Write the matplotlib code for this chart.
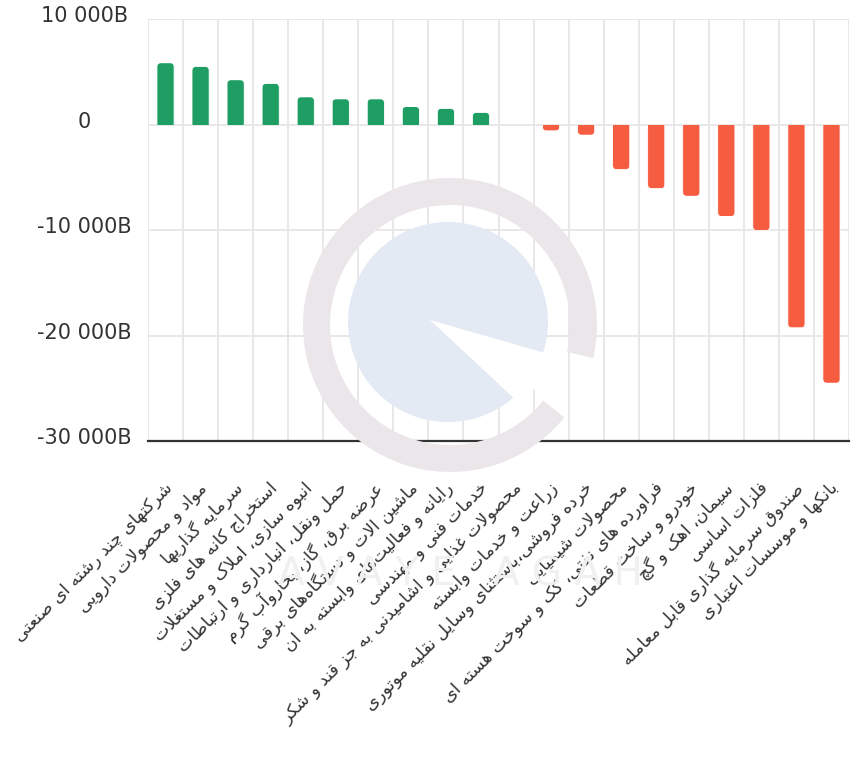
import matplotlib
matplotlib.use("Agg")
import matplotlib.pyplot as plt
from matplotlib.transforms import ScaledTranslation
from matplotlib.patches import Wedge, Circle, FancyBboxPatch, Rectangle

# ---------------- data ----------------
categories = [
    "شرکتهای چند رشته ای صنعتی",
    "مواد و محصولات دارویی",
    "سرمایه گذاریها",
    "استخراج کانه های فلزی",
    "انبوه سازی، املاک و مستغلات",
    "حمل ونقل، انبارداری و ارتباطات",
    "عرضه برق، گاز، بخاروآب گرم",
    "ماشین الات و دستگاه\u200cهای برقی",
    "رایانه و فعالیت\u200cهای وابسته به ان",
    "خدمات فنی و مهندسی",
    "محصولات غذایی و اشامیدنی به جز قند و شکر",
    "زراعت و خدمات وابسته",
    "خرده فروشی،باستثنای وسایل نقلیه موتوری",
    "محصولات شیمیایی",
    "فراورده های نفتی، کک و سوخت هسته ای",
    "خودرو و ساخت قطعات",
    "سیمان، اهک و گچ",
    "فلزات اساسی",
    "صندوق سرمایه گذاری قابل معامله",
    "بانکها و موسسات اعتباری",
]
values = [5850, 5500, 4240, 3890, 2620, 2430, 2430, 1700, 1520, 1140,
          0, -600, -1010, -4270, -6070, -6800, -8720, -10050, -19270, -24520]
y_ticks = [10000, 0, -10000, -20000, -30000]
y_tick_labels = ["10 000B", "0", "-10 000B", "-20 000B", "-30 000B"]

# ---------------- minimal Persian shaping ----------------
_DUAL = {
    'ب': (0xFE8F, 0xFE90, 0xFE91, 0xFE92), 'پ': (0xFB56, 0xFB57, 0xFB58, 0xFB59),
    'ت': (0xFE95, 0xFE96, 0xFE97, 0xFE98), 'ث': (0xFE99, 0xFE9A, 0xFE9B, 0xFE9C),
    'ج': (0xFE9D, 0xFE9E, 0xFE9F, 0xFEA0), 'چ': (0xFB7A, 0xFB7B, 0xFB7C, 0xFB7D),
    'ح': (0xFEA1, 0xFEA2, 0xFEA3, 0xFEA4), 'خ': (0xFEA5, 0xFEA6, 0xFEA7, 0xFEA8),
    'س': (0xFEB1, 0xFEB2, 0xFEB3, 0xFEB4), 'ش': (0xFEB5, 0xFEB6, 0xFEB7, 0xFEB8),
    'ص': (0xFEB9, 0xFEBA, 0xFEBB, 0xFEBC), 'ض': (0xFEBD, 0xFEBE, 0xFEBF, 0xFEC0),
    'ط': (0xFEC1, 0xFEC2, 0xFEC3, 0xFEC4), 'ظ': (0xFEC5, 0xFEC6, 0xFEC7, 0xFEC8),
    'ع': (0xFEC9, 0xFECA, 0xFECB, 0xFECC), 'غ': (0xFECD, 0xFECE, 0xFECF, 0xFED0),
    'ف': (0xFED1, 0xFED2, 0xFED3, 0xFED4), 'ق': (0xFED5, 0xFED6, 0xFED7, 0xFED8),
    'ک': (0xFB8E, 0xFB8F, 0xFB90, 0xFB91), 'ك': (0xFED9, 0xFEDA, 0xFEDB, 0xFEDC),
    'گ': (0xFB92, 0xFB93, 0xFB94, 0xFB95), 'ل': (0xFEDD, 0xFEDE, 0xFEDF, 0xFEE0),
    'م': (0xFEE1, 0xFEE2, 0xFEE3, 0xFEE4), 'ن': (0xFEE5, 0xFEE6, 0xFEE7, 0xFEE8),
    'ه': (0xFEE9, 0xFEEA, 0xFEEB, 0xFEEC), 'ی': (0xFBFC, 0xFBFD, 0xFBFE, 0xFBFF),
    'ي': (0xFEF1, 0xFEF2, 0xFEF3, 0xFEF4), 'ئ': (0xFE89, 0xFE8A, 0xFE8B, 0xFE8C),
}
_RIGHT = {
    'ا': (0xFE8D, 0xFE8E), 'آ': (0xFE81, 0xFE82), 'أ': (0xFE83, 0xFE84),
    'د': (0xFEA9, 0xFEAA), 'ذ': (0xFEAB, 0xFEAC), 'ر': (0xFEAD, 0xFEAE),
    'ز': (0xFEAF, 0xFEB0), 'ژ': (0xFB8A, 0xFB8B), 'و': (0xFEED, 0xFEEE),
    'ة': (0xFE93, 0xFE94), 'LA': (0xFEFB, 0xFEFC), 'LAA': (0xFEF5, 0xFEF6),
}


def shape_fa(text):
    toks = []
    i = 0
    while i < len(text):
        c = text[i]
        if c == 'ل' and i + 1 < len(text) and text[i + 1] in 'اآ':
            toks.append('LA' if text[i + 1] == 'ا' else 'LAA')
            i += 2
            continue
        toks.append(c)
        i += 1
    out = []
    for k, t in enumerate(toks):
        prev = toks[k - 1] if k > 0 else None
        nxt = toks[k + 1] if k + 1 < len(toks) else None
        jp = prev in _DUAL and (t in _DUAL or t in _RIGHT)
        if t in _DUAL:
            jn = nxt is not None and (nxt in _DUAL or nxt in _RIGHT)
            f = _DUAL[t]
            if jp and jn:
                out.append(chr(f[3]))
            elif jp:
                out.append(chr(f[1]))
            elif jn:
                out.append(chr(f[2]))
            else:
                out.append(chr(f[0]))
        elif t in _RIGHT:
            f = _RIGHT[t]
            out.append(chr(f[1] if jp else f[0]))
        elif t == '\u200c':
            continue
        else:
            out.append(t)
    return ''.join(out)[::-1]


# ---------------- figure ----------------
W_PX, H_PX = 860, 758
fig = plt.figure(figsize=(W_PX / 100, H_PX / 100), dpi=100)
fig.patch.set_facecolor('white')

# watermark (decorative, behind the plot)
fig.patches.append(Wedge((4.50, 4.33), 1.47, -13, 321, width=0.27, facecolor='#ebe6ea',
                         edgecolor='none', transform=fig.dpi_scale_trans, zorder=0))
fig.patches.append(Circle((4.48, 4.36), 1.00, facecolor='#e3eaf4', edgecolor='none',
                          transform=fig.dpi_scale_trans, zorder=0))
fig.patches.append(Wedge((4.30, 4.38), 1.25, -43, -16, facecolor='white',
                         edgecolor='none', transform=fig.dpi_scale_trans, zorder=0))
fig.text(0.535, 0.242, "A V A Y E   A G A H", fontsize=28, color='#f0f0f0', ha='center',
         va='center', zorder=0, fontfamily='DejaVu Sans')

ax_left, ax_right, ax_top, ax_bottom = 148, 849, 19, 441
ax = fig.add_axes([ax_left / W_PX, 1 - ax_bottom / H_PX,
                   (ax_right - ax_left) / W_PX, (ax_bottom - ax_top) / H_PX])
ax.set_facecolor('none')

n = len(categories)
x = list(range(n))
ax.set_xlim(-0.5, n - 0.5)
ax.set_ylim(y_ticks[-1], y_ticks[0])

colors = ['#1f9e63' if v >= 0 else '#f65c40' for v in values]
bars = ax.bar(x, values, width=0.49, color=colors, edgecolor='white', linewidth=0.6, zorder=3)

# round the outer end of each bar (Highcharts-like border radius)
x_per_px = n / (ax_right - ax_left)
y_per_px = (y_ticks[0] - y_ticks[-1]) / (ax_bottom - ax_top)
r_px = 4.0
rx = r_px * x_per_px
ry = r_px * y_per_px
aspect = y_per_px / x_per_px
for rect, col in zip(bars.patches, colors):
    h = rect.get_height()
    if h == 0:
        rect.set_visible(False)
        continue
    bx, bw = rect.get_x(), rect.get_width()
    y0 = -ry if h > 0 else h
    hh = abs(h) + ry
    rect.set_visible(False)
    fb = FancyBboxPatch((bx, y0), bw, hh,
                        boxstyle=f"round,pad=0,rounding_size={rx}",
                        mutation_aspect=aspect, facecolor=col, edgecolor='white',
                        linewidth=0.6, zorder=3)
    ax.add_patch(fb)
    clip = Rectangle((bx - 0.05, min(0, h)), bw + 0.1, abs(h), transform=ax.transData)
    fb.set_clip_path(clip)

# grid
ax.set_yticks(y_ticks)
ax.set_yticklabels(y_tick_labels)
ax.set_xticks(x)
ax.set_xticks([i - 0.5 for i in range(n + 1)], minor=True)
ax.grid(axis='y', which='major', color='#e6e6e6', linewidth=1.3, zorder=1)
ax.grid(axis='x', which='minor', color='#e6e6e6', linewidth=1.3, zorder=1)
ax.grid(axis='x', which='major', visible=False)

for s in ['top', 'left', 'right']:
    ax.spines[s].set_visible(False)
ax.spines['bottom'].set_color('#333333')
ax.spines['bottom'].set_linewidth(1.6)
ax.spines['bottom'].set_zorder(4)

ax.tick_params(axis='both', which='both', length=0)
ax.tick_params(axis='y', pad=46, labelsize=15, labelcolor='#333333')
for lab in ax.get_yticklabels():
    lab.set_horizontalalignment('center')
    lab.set_transform(lab.get_transform() + ScaledTranslation(0, 0.05, fig.dpi_scale_trans))

ax.set_xticklabels([shape_fa(c) for c in categories], rotation=45, ha='right',
                   va='center', rotation_mode='anchor', fontsize=12.5,
                   color='#333333', fontfamily='DejaVu Sans')
ax.tick_params(axis='x', pad=32)
for lab in ax.get_xticklabels():
    lab.set_transform(lab.get_transform() + ScaledTranslation(0.04, 0, fig.dpi_scale_trans))

fig.savefig('out.png', dpi=100, facecolor='white')
